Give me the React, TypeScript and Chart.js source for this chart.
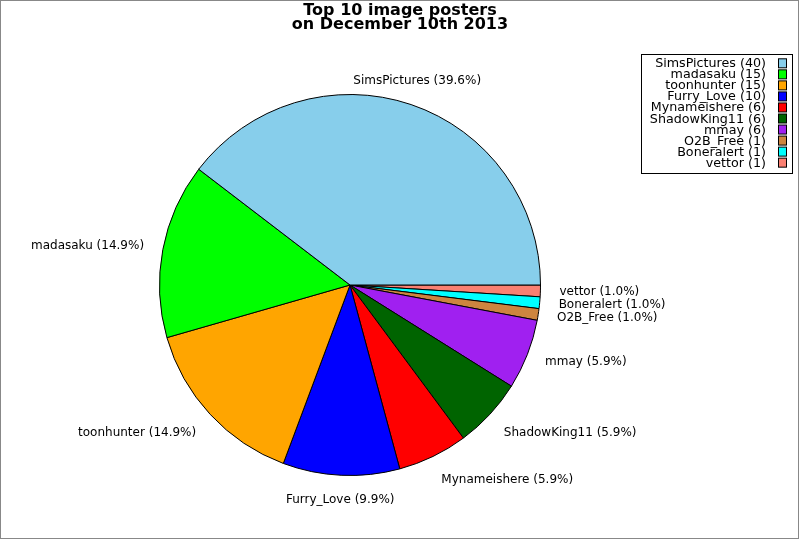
import React, { useEffect, useRef } from "react";
import { Chart, registerables } from "chart.js";

Chart.register(...registerables);

const names = ["SimsPictures", "madasaku", "toonhunter", "Furry_Love", "Mynameishere", "ShadowKing11", "mmay", "O2B_Free", "Boneralert", "vettor"];
const counts = [40, 15, 15, 10, 6, 6, 6, 1, 1, 1];
const colors = ["#87CEEB", "#00FF00", "#FFA500", "#0000FF", "#FF0000", "#006400", "#A020F0", "#CD853F", "#00FFFF", "#FA8072"];
const titleLines = ["Top 10 image posters", "on December 10th 2013"];

const FONT = "DejaVu Sans";

export default function App() {
  const ref = useRef<HTMLCanvasElement>(null);
  useEffect(() => {
    document.body.style.margin = "0";
    const total = counts.reduce((a, b) => a + b, 0);
    // Chart.js draws clockwise; reverse so the visual order is counter-clockwise from 3 o'clock
    const rNames = [...names].reverse();
    const rCounts = [...counts].reverse();
    const rColors = [...colors].reverse();

    const decor = {
      id: "decor",
      afterDraw(chart: any) {
        const ctx = chart.ctx;
        ctx.save();
        // frame
        ctx.strokeStyle = "#888888";
        ctx.lineWidth = 1;
        ctx.strokeRect(0.5, 0.5, 798, 538);
        // title
        ctx.fillStyle = "#000";
        ctx.font = `bold 16px "${FONT}"`;
        ctx.textAlign = "center";
        ctx.textBaseline = "alphabetic";
        ctx.fillText(titleLines[0], 400, 15);
        ctx.fillText(titleLines[1], 400, 29);
        // slice labels
        const meta = chart.getDatasetMeta(0);
        ctx.font = `12px "${FONT}"`;
        meta.data.forEach((arc: any, i: number) => {
          const mid = (arc.startAngle + arc.endAngle) / 2;
          const r = arc.outerRadius * 1.1;
          const c = Math.cos(mid);
          const s = Math.sin(mid);
          const x = arc.x + r * c;
          const y = arc.y + r * s;
          ctx.textAlign = c > 0.4 ? "left" : c < -0.4 ? "right" : "center";
          ctx.textBaseline = s < -0.5 ? "bottom" : s > 0.5 ? "top" : "middle";
          const pct = ((rCounts[i] / total) * 100).toFixed(1);
          ctx.fillText(`${rNames[i]} (${pct}%)`, x, y);
        });
        // legend
        const lx = 641.5, ly = 54.5, lw = 151, lh = 119;
        ctx.fillStyle = "#fff";
        ctx.fillRect(lx, ly, lw, lh);
        ctx.strokeStyle = "#000";
        ctx.strokeRect(lx, ly, lw, lh);
        ctx.font = `12.7px "${FONT}"`;
        ctx.textAlign = "right";
        ctx.textBaseline = "alphabetic";
        names.forEach((n, i) => {
          const by = 67.3 + i * 11.04;
          ctx.fillStyle = "#000";
          ctx.fillText(`${n} (${counts[i]})`, 766, by);
          ctx.fillStyle = colors[i];
          ctx.fillRect(778.5, by - 8.5, 8, 9);
          ctx.strokeStyle = "#000";
          ctx.strokeRect(778.5, by - 8.5, 8, 9);
        });
        ctx.restore();
      },
    };

    const chart = new Chart(ref.current!, {
      type: "pie",
      data: {
        labels: rNames,
        datasets: [
          {
            data: rCounts,
            backgroundColor: rColors,
            borderColor: "#000",
            borderWidth: 1,
          },
        ],
      },
      options: {
        animation: false,
        responsive: false,
        devicePixelRatio: 1,
        rotation: 90,
        layout: { padding: { left: 159, right: 259, top: 94, bottom: 64 } },
        plugins: {
          legend: { display: false },
          title: { display: false },
          tooltip: { enabled: false },
        },
      },
      plugins: [decor],
    });
    return () => chart.destroy();
  }, []);
  return (
    <div style={{ width: 800, height: 540, background: "#fff" }}>
      <canvas ref={ref} width={800} height={540} style={{ width: 800, height: 540, display: "block" }} />
    </div>
  );
}
